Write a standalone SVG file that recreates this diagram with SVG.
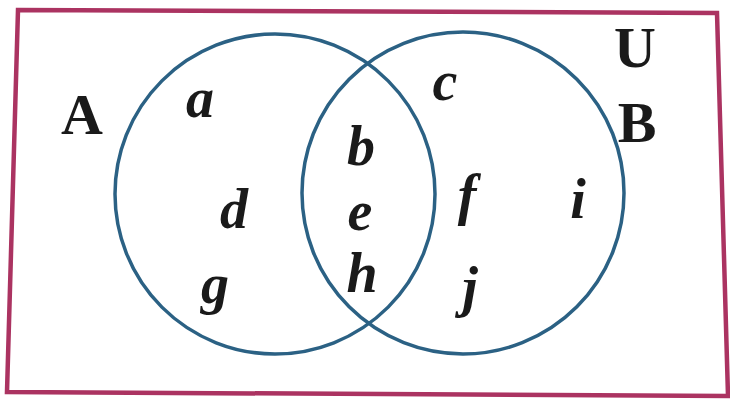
<svg xmlns="http://www.w3.org/2000/svg" width="730" height="400" viewBox="0 0 730 400">
<style>
.frame{fill:none;stroke:#ab3361;stroke-width:4.5;stroke-linejoin:miter}
.set{fill:none;stroke:#2b6184;stroke-width:3.5}
.lbl{font-family:"Liberation Serif","Times New Roman",serif;font-weight:bold;font-size:58px;fill:#1a1a1a;text-anchor:middle}
.el{font-family:"Liberation Serif","Times New Roman",serif;font-weight:bold;font-style:italic;font-size:56px;fill:#1a1a1a;text-anchor:middle}
</style>
<rect width="730" height="400" fill="#ffffff"/>
<g id="universe">
<polygon class="frame" points="18,10 717,13 728,396 7,392"/>
<text class="lbl" x="635" y="67">U</text>
</g>
<g id="setA">
<circle class="set" cx="275" cy="194" r="160"/>
<text class="lbl" x="82" y="134">A</text>
</g>
<g id="setB">
<circle class="set" cx="463" cy="193" r="161"/>
<text class="lbl" x="637" y="142">B</text>
</g>
<g id="elements">
<text class="el" x="200" y="117">a</text>
<text class="el" x="234" y="228">d</text>
<text class="el" x="215" y="303">g</text>
<text class="el" x="361" y="165">b</text>
<text class="el" x="360" y="230">e</text>
<text class="el" x="362" y="292">h</text>
<text class="el" x="445" y="100">c</text>
<text class="el" x="467" y="214">f</text>
<text class="el" x="578" y="218">i</text>
<text class="el" x="470" y="306">j</text>
</g>
</svg>
